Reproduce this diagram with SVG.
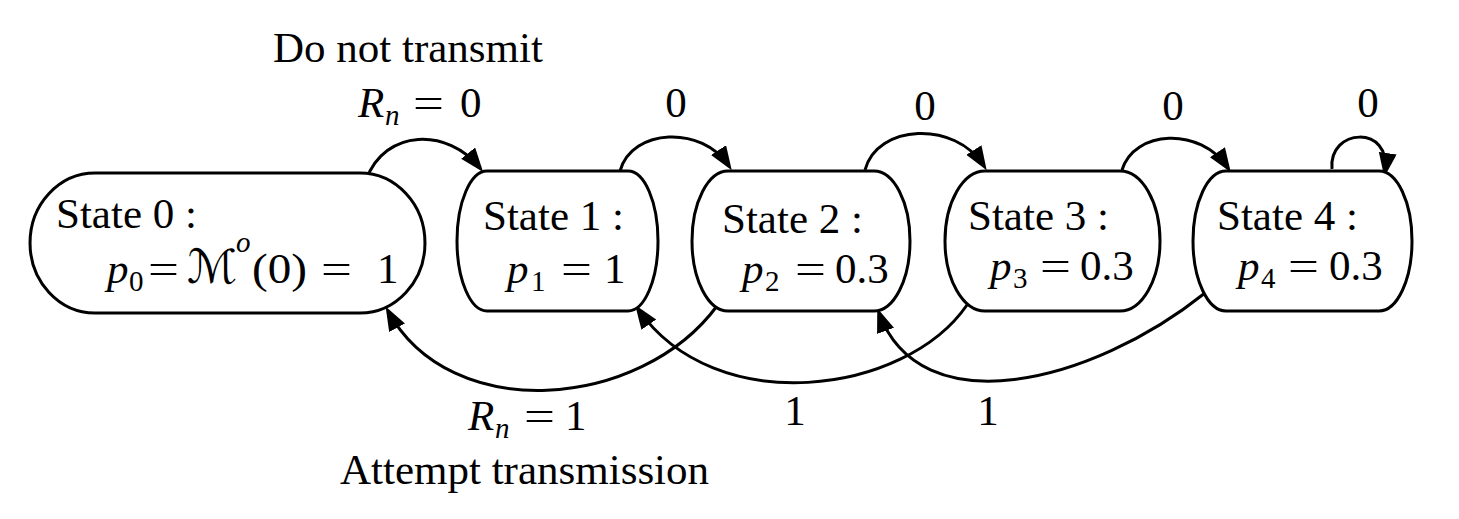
<svg xmlns="http://www.w3.org/2000/svg" width="1459" height="519" viewBox="0 0 1459 519">
<style>
text{font-family:"Liberation Serif","Times New Roman",serif;font-size:43px;fill:#000}
.i{font-style:italic}
.s{font-size:29px}
.cal{font-family:"DejaVu Serif","DejaVu Sans",serif;font-style:normal;font-size:47px}
.node{fill:#fff;stroke:#000;stroke-width:3}
.edge{fill:none;stroke:#000;stroke-width:3}
</style>
<defs>
<marker id="ah" markerUnits="userSpaceOnUse" markerWidth="26" markerHeight="20" refX="19" refY="9" orient="auto">
<path d="M0,0 L24,9 L0,18 z" fill="#000"/>
</marker>
</defs>
<rect width="1459" height="519" fill="#fff"/>
<g id="edges">
<path class="edge" marker-end="url(#ah)" d="M366,180 C385,128 448,128 480,168"/>
<path class="edge" marker-end="url(#ah)" d="M620,171 C632,128 702,125 729,166"/>
<path class="edge" marker-end="url(#ah)" d="M865,170 C877,124 955,120 984,166"/>
<path class="edge" marker-end="url(#ah)" d="M1122,170 C1134,130 1200,126 1228,168"/>
<path class="edge" marker-end="url(#ah)" d="M1332,169 C1328,128 1392,124 1385,172"/>
<path class="edge" marker-end="url(#ah)" d="M717,306 C640,410 450,425 388,311"/>
<path class="edge" marker-end="url(#ah)" d="M967,305 C905,395 715,420 638,309"/>
<path class="edge" marker-end="url(#ah)" d="M1205,293 C1090,385 920,425 879,313"/>
</g>
<g id="edge-labels">
<text x="273" y="62">Do not transmit</text>
<text y="117"><tspan class="i" x="358">R</tspan><tspan class="s i" x="385" dy="8">n</tspan></text>
<text x="413" y="117" textLength="31" lengthAdjust="spacingAndGlyphs">=</text>
<text x="460" y="117">0</text>
<text x="676" y="117" text-anchor="middle">0</text>
<text x="925" y="120" text-anchor="middle">0</text>
<text x="1173" y="120" text-anchor="middle">0</text>
<text x="1368" y="117" text-anchor="middle">0</text>
<text y="430"><tspan class="i" x="468">R</tspan><tspan class="s i" x="495" dy="8">n</tspan></text>
<text x="524" y="430" textLength="31" lengthAdjust="spacingAndGlyphs">=</text>
<text x="565" y="430">1</text>
<text x="795" y="425" text-anchor="middle">1</text>
<text x="988" y="425" text-anchor="middle">1</text>
<text x="340" y="484">Attempt transmission</text>
</g>
<g id="node0">
<path class="node" d="M95,173 H360 A65,70 0 0 1 360,313 H95 A65,70 0 0 1 95,173 Z"/>
<text x="56" y="228">State 0 :</text>
<text x="107" y="283" class="i">p</text>
<text x="129" y="291" class="s">0</text>
<text x="148" y="283" textLength="31" lengthAdjust="spacingAndGlyphs">=</text>
<text x="187" y="283" class="cal">ℳ</text>
<text x="236" y="252" class="s i">o</text>
<text x="252" y="283" textLength="55" lengthAdjust="spacingAndGlyphs">(0)</text>
<text x="321" y="283" textLength="31" lengthAdjust="spacingAndGlyphs">=</text>
<text x="377" y="283">1</text>
</g>
<g id="node1">
<path class="node" d="M487,171 H628 A30,70 0 0 1 628,311 H487 A30,70 0 0 1 487,171 Z"/>
<text x="483" y="230">State 1 :</text>
<text y="283"><tspan class="i" x="507">p</tspan><tspan class="s" x="531" dy="8">1</tspan></text>
<text x="561" y="283" textLength="31" lengthAdjust="spacingAndGlyphs">=</text>
<text x="604" y="283">1</text>
</g>
<g id="node2">
<path class="node" d="M728,171 H874 A36,70 0 0 1 874,311 H728 A36,70 0 0 1 728,171 Z"/>
<text x="722" y="233">State 2 :</text>
<text y="283"><tspan class="i" x="742">p</tspan><tspan class="s" x="765" dy="8">2</tspan></text>
<text x="795" y="283" textLength="31" lengthAdjust="spacingAndGlyphs">=</text>
<text x="835" y="283">0.3</text>
</g>
<g id="node3">
<path class="node" d="M985,171 H1120 A40,70 0 0 1 1120,311 H985 A40,70 0 0 1 985,171 Z"/>
<text x="968" y="230">State 3 :</text>
<text y="280"><tspan class="i" x="990">p</tspan><tspan class="s" x="1013" dy="8">3</tspan></text>
<text x="1040" y="280" textLength="31" lengthAdjust="spacingAndGlyphs">=</text>
<text x="1080" y="280">0.3</text>
</g>
<g id="node4">
<path class="node" d="M1226,171 H1379 A33,70 0 0 1 1379,311 H1226 A33,70 0 0 1 1226,171 Z"/>
<text x="1217" y="230">State 4 :</text>
<text y="280"><tspan class="i" x="1238">p</tspan><tspan class="s" x="1261" dy="8">4</tspan></text>
<text x="1288" y="280" textLength="31" lengthAdjust="spacingAndGlyphs">=</text>
<text x="1329" y="280">0.3</text>
</g>
</svg>
